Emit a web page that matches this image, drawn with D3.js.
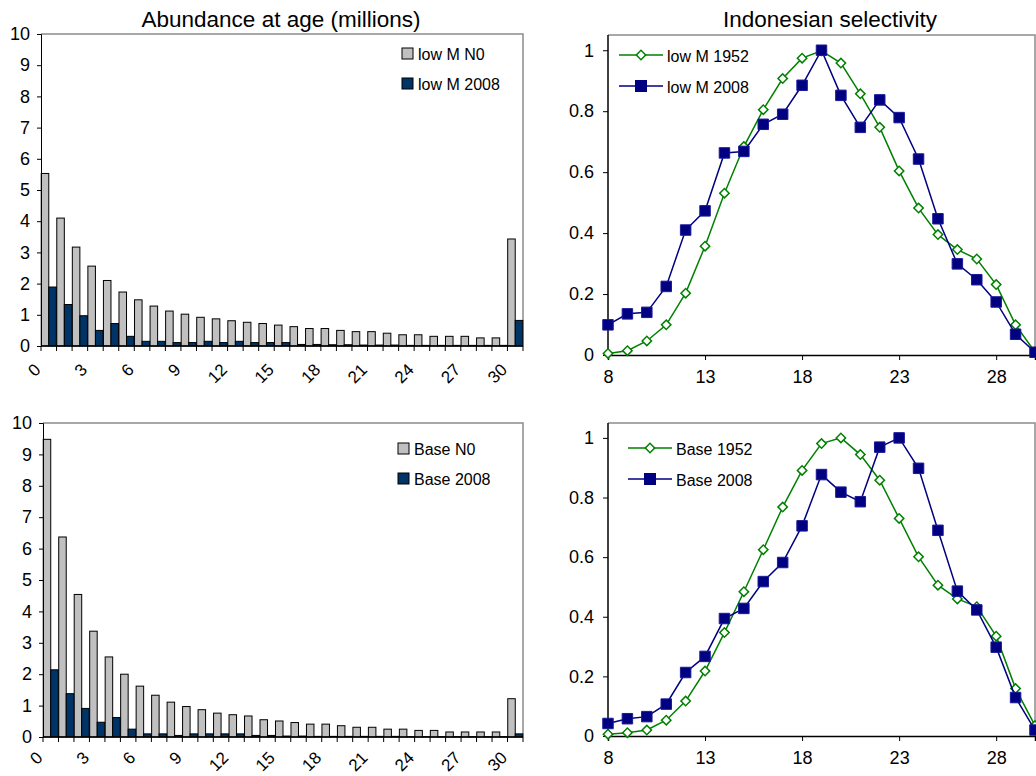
<!DOCTYPE html>
<html>
<head>
<meta charset="utf-8">
<script src="https://cdn.jsdelivr.net/npm/d3@7"></script>
<style>
  body { margin: 0; background: #fff; }
  svg { font-family: "Liberation Sans", Arial, sans-serif; }
</style>
</head>
<body>
<svg id="chart" width="1036" height="776"></svg>
<script>
// abundance at age (millions)
const ages = [0,1,2,3,4,5,6,7,8,9,10,11,12,13,14,15,16,17,18,19,20,21,22,23,24,25,26,27,28,29,30]
const lowMN0 = [5.53,4.10,3.17,2.56,2.10,1.73,1.48,1.28,1.12,1.02,0.92,0.87,0.81,0.76,0.72,0.67,0.62,0.56,0.56,0.50,0.46,0.46,0.41,0.36,0.36,0.31,0.31,0.31,0.26,0.26,3.43]
const lowM2008 = [1.89,1.33,0.97,0.50,0.72,0.31,0.15,0.15,0.11,0.11,0.15,0.11,0.15,0.11,0.11,0.11,0.05,0.05,0.04,0.04,0.03,0.03,0.03,0.02,0.02,0.02,0.02,0.02,0.02,0.02,0.82]
const baseN0 = [9.48,6.37,4.54,3.37,2.55,2.00,1.62,1.33,1.11,0.97,0.87,0.76,0.71,0.67,0.55,0.51,0.46,0.41,0.41,0.36,0.31,0.31,0.25,0.25,0.21,0.21,0.16,0.16,0.16,0.16,1.22]
const base2008 = [2.14,1.38,0.91,0.47,0.62,0.25,0.10,0.10,0.05,0.10,0.10,0.10,0.10,0.05,0.05,0.03,0.03,0.02,0.02,0.02,0.02,0.02,0.02,0.01,0.01,0.01,0.01,0.01,0.01,0.01,0.10]
const barTicks = [0,1,2,3,4,5,6,7,8,9,10]
const ageLabels = [0,3,6,9,12,15,18,21,24,27,30]

// Indonesian selectivity
const lengths = [8,9,10,11,12,13,14,15,16,17,18,19,20,21,22,23,24,25,26,27,28,29,30]
const lowM1952Sel = [0.005,0.014,0.046,0.099,0.203,0.357,0.531,0.684,0.805,0.907,0.974,0.998,0.958,0.857,0.747,0.604,0.482,0.395,0.346,0.315,0.231,0.099,0.010]
const lowM2008Sel = [0.099,0.135,0.140,0.225,0.410,0.473,0.663,0.668,0.757,0.790,0.885,1.000,0.852,0.747,0.837,0.779,0.643,0.447,0.299,0.247,0.174,0.068,0.009]
const base1952Sel = [0.006,0.011,0.020,0.053,0.117,0.218,0.347,0.484,0.625,0.768,0.891,0.981,1.000,0.944,0.858,0.730,0.601,0.506,0.460,0.434,0.335,0.159,0.035]
const base2008Sel = [0.042,0.058,0.065,0.107,0.213,0.267,0.394,0.428,0.518,0.582,0.705,0.877,0.818,0.786,0.969,1.000,0.898,0.690,0.486,0.423,0.298,0.129,0.020]
const selTicks = [0,0.2,0.4,0.6,0.8,1]
const lengthTicks = [8,13,18,23,28]

const svg = d3.select("#chart")
const grey = "#c0c0c0", navy = "#003366", green = "#008000", blue = "#000080"

svg.append("text").attr("x", 281).attr("y", 27).attr("text-anchor", "middle")
    .style("font-size", "22.5px").text("Abundance at age (millions)")
svg.append("text").attr("x", 830).attr("y", 27).attr("text-anchor", "middle")
    .style("font-size", "22.5px").text("Indonesian selectivity")

function frame (g, x0, y0, x1, y1) {
    g.append("path")
        .attr("d", `M${x0},${y0}H${x1}V${y1}`)
        .attr("fill", "none").attr("stroke", "#8c8c8c").attr("stroke-width", 1.5)
}

function barPanel ({ box, n0, y2008, names, legendAt, labelDy }) {
    const g = svg.append("g")
    const x = d3.scaleBand().domain(ages).range([box.left, box.right]).paddingInner(0.03).paddingOuter(0.015)
    const sub = d3.scaleBand().domain([0, 1]).range([0, x.bandwidth()])
    const y = d3.scaleLinear().domain([0, 10]).range([box.bottom, box.top])

    frame(g, box.left, box.top, box.right, box.bottom)

    const series = [n0, y2008]
    const colors = [grey, navy]
    series.forEach((vals, s) => {
        g.selectAll(".bar" + s).data(vals).enter().append("rect")
            .attr("x", (d, i) => x(ages[i]) + sub(s))
            .attr("y", d => y(d))
            .attr("width", sub.bandwidth())
            .attr("height", d => box.bottom - y(d))
            .attr("fill", colors[s]).attr("stroke", "#000").attr("stroke-width", 1)
    })

    const yAxis = g.append("g").attr("transform", `translate(${box.left},0)`)
        .call(d3.axisLeft(y).tickValues(barTicks).tickSize(4).tickPadding(7).tickFormat(d3.format("d")))
    yAxis.selectAll("text").style("font-size", "18px").attr("fill", "#000")

    // category separators on x axis
    const step = x.step()
    const xAxis = g.append("g")
    xAxis.append("line").attr("x1", box.left).attr("x2", box.right)
        .attr("y1", box.bottom).attr("y2", box.bottom).attr("stroke", "#000").attr("stroke-width", 1.5)
    xAxis.selectAll(".sep").data(ages.concat([31])).enter().append("line")
        .attr("x1", (d, i) => box.left + i * step).attr("x2", (d, i) => box.left + i * step)
        .attr("y1", box.bottom).attr("y2", box.bottom + 5).attr("stroke", "#000")
    xAxis.selectAll(".lab").data(ageLabels).enter().append("text")
        .attr("transform", d => `translate(${x(d) + x.bandwidth() / 2 - 11},${box.bottom + labelDy}) rotate(-45)`)
        .attr("text-anchor", "end").attr("dominant-baseline", "central")
        .style("font-size", "17px").text(d => d)

    const leg = g.append("g").attr("transform", `translate(${legendAt[0]},${legendAt[1]})`)
    names.forEach((name, i) => {
        leg.append("rect").attr("x", 0).attr("y", i * 30 - 5).attr("width", 11).attr("height", 11)
            .attr("fill", colors[i]).attr("stroke", "#000")
        leg.append("text").attr("x", 16).attr("y", i * 30 + 1).attr("dominant-baseline", "central")
            .style("font-size", "16px").text(name)
    })
}

function linePanel ({ box, s1952, s2008, names, legendAt }) {
    const g = svg.append("g")
    const x = d3.scaleLinear().domain([8, 30]).range([box.left, box.right])
    const y = d3.scaleLinear().domain([0, 1.05]).range([box.bottom, box.top])

    frame(g, box.left, box.top, box.right, box.bottom)

    const yAxis = g.append("g").attr("transform", `translate(${box.left},0)`)
        .call(d3.axisLeft(y).tickValues(selTicks).tickSize(5).tickPadding(9).tickFormat(d => d3.format("~g")(d)))
    const xAxis = g.append("g").attr("transform", `translate(0,${box.bottom})`)
        .call(d3.axisBottom(x).tickValues(lengthTicks).tickSize(5).tickPadding(10))
    ;[yAxis, xAxis].forEach(a => {
        a.select(".domain").attr("stroke-width", 1.5)
        a.selectAll("text").style("font-size", "18px").attr("fill", "#000")
    })
    yAxis.select(".domain").attr("d", `M0,${box.top}V${box.bottom}`)

    const line = d3.line().x((d, i) => x(lengths[i])).y(d => y(d))
    const diamond = d3.symbol().type(d3.symbolSquare).size(44)
    const square = d3.symbol().type(d3.symbolSquare).size(110)

    // 1952 drawn first, 2008 on top
    g.append("path").datum(s1952).attr("d", line).attr("fill", "none").attr("stroke", green).attr("stroke-width", 1.5)
    g.selectAll(".dm").data(s1952).enter().append("path")
        .attr("d", diamond).attr("transform", (d, i) => `translate(${x(lengths[i])},${y(d)}) rotate(45)`)
        .attr("fill", "#fff").attr("stroke", green).attr("stroke-width", 1.5)
    g.append("path").datum(s2008).attr("d", line).attr("fill", "none").attr("stroke", blue).attr("stroke-width", 1.5)
    g.selectAll(".sq").data(s2008).enter().append("path")
        .attr("d", square).attr("transform", (d, i) => `translate(${x(lengths[i])},${y(d)})`)
        .attr("fill", blue).attr("stroke", "#1a1a99").attr("stroke-width", 1)

    const leg = g.append("g").attr("transform", `translate(${legendAt[0]},${legendAt[1]})`)
    const legStyle = [
        { c: green, sym: diamond, rot: 45, fill: "#fff" },
        { c: blue, sym: square, rot: 0, fill: blue }
    ]
    names.forEach((name, i) => {
        const st = legStyle[i]
        leg.append("line").attr("x1", 0).attr("x2", 44).attr("y1", i * 31).attr("y2", i * 31)
            .attr("stroke", st.c).attr("stroke-width", 1.5)
        leg.append("path").attr("d", st.sym).attr("transform", `translate(22,${i * 31}) rotate(${st.rot})`)
            .attr("fill", st.fill).attr("stroke", st.c).attr("stroke-width", 1.5)
        leg.append("text").attr("x", 48).attr("y", i * 31 + 1).attr("dominant-baseline", "central")
            .style("font-size", "16px").text(name)
    })
}

barPanel({ box: { left: 41, top: 34, right: 523, bottom: 346 }, n0: lowMN0, y2008: lowM2008,
    names: ["low M N0", "low M 2008"], legendAt: [402, 53], labelDy: 21 })
barPanel({ box: { left: 43, top: 423, right: 523, bottom: 737 }, n0: baseN0, y2008: base2008,
    names: ["Base N0", "Base 2008"], legendAt: [398, 448], labelDy: 18 })
linePanel({ box: { left: 608, top: 35, right: 1035, bottom: 355 }, s1952: lowM1952Sel, s2008: lowM2008Sel,
    names: ["low M 1952", "low M 2008"], legendAt: [619, 55] })
linePanel({ box: { left: 608, top: 423, right: 1035, bottom: 736 }, s1952: base1952Sel, s2008: base2008Sel,
    names: ["Base 1952", "Base 2008"], legendAt: [628, 448] })
</script>
</body>
</html>
